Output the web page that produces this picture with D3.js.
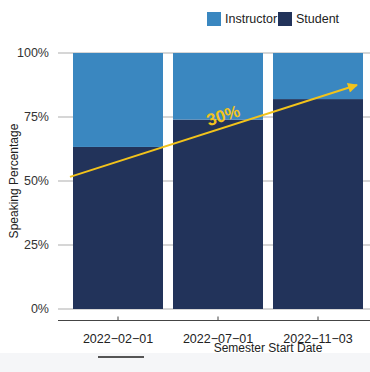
<!DOCTYPE html>
<html>
<head>
<meta charset="utf-8">
<script src="https://cdn.jsdelivr.net/npm/d3@7"></script>
<style>
  body { margin: 0; background: #fff; }
  svg { display: block; font-family: "Liberation Sans", Arial, sans-serif; }
</style>
</head>
<body>
<div id="chart"></div>
<script>
// data
const semesters = ['2022-02-01', '2022-07-01', '2022-11-03'];
const studentShare = [0.633, 0.74, 0.82];
const instructorShare = studentShare.map(v => 1 - v);
const seriesNames = ['Instructor', 'Student'];
const yTicks = [0, 0.25, 0.5, 0.75, 1];
// trend arrow (x in band units from first to last, y as share)
const trendFrom = [-0.48, 0.516];
const trendTo = [2.39, 0.875];
const trendLabel = '30%';

const W = 370, H = 372;
const colors = { Instructor: '#3a87c0', Student: '#22335a' };

const svg = d3.select('#chart').append('svg')
    .attr('width', W)
    .attr('height', H)
    .attr('viewBox', `0 0 ${W} ${H}`);

// grey footer strip
svg.append('rect')
    .attr('x', 0).attr('y', 353)
    .attr('width', W).attr('height', H - 353)
    .attr('fill', '#f5f6f8');
svg.append('line')
    .attr('x1', 98).attr('x2', 144)
    .attr('y1', 357).attr('y2', 357)
    .attr('stroke', '#555').attr('stroke-width', 2);

const x = d3.scaleBand()
    .domain(semesters)
    .range([68, 368])
    .paddingInner(0.1)
    .paddingOuter(0.05);

const y = d3.scaleLinear().domain([0, 1]).range([309, 53]);

// grid
svg.append('g')
    .selectAll('line')
    .data(yTicks)
    .enter()
    .append('line')
    .attr('x1', 58).attr('x2', W)
    .attr('y1', d => y(d)).attr('y2', d => y(d))
    .attr('stroke', '#c8c8c8').attr('stroke-width', 1.5);

// y labels
svg.append('g')
    .selectAll('text')
    .data(yTicks)
    .enter()
    .append('text')
    .attr('x', 49)
    .attr('y', d => y(d))
    .attr('dy', '0.35em')
    .attr('text-anchor', 'end')
    .style('font-size', '12.5px')
    .style('fill', '#333')
    .text(d => d3.format('.0%')(d));

svg.append('text')
    .attr('transform', `translate(14,181) rotate(-90)`)
    .attr('text-anchor', 'middle')
    .attr('dy', '0.35em')
    .style('font-size', '12px')
    .style('fill', '#222')
    .text('Speaking Percentage');

// bars
const stacked = semesters.map((s, i) => ({ s, Student: studentShare[i], Instructor: instructorShare[i] }));
const stack = d3.stack().keys(['Student', 'Instructor'])(stacked);

svg.append('g')
    .selectAll('g')
    .data(stack)
    .enter()
    .append('g')
    .attr('fill', d => colors[d.key])
    .selectAll('rect')
    .data(d => d)
    .enter()
    .append('rect')
    .attr('x', d => x(d.data.s))
    .attr('width', x.bandwidth())
    .attr('y', d => y(d[1]))
    .attr('height', d => y(d[0]) - y(d[1]));

// x axis
const xAxis = svg.append('g')
    .attr('transform', 'translate(0,320.5)');
xAxis.append('line')
    .attr('x1', 58).attr('x2', W)
    .attr('stroke', '#444').attr('stroke-width', 1);
xAxis.selectAll('.tick')
    .data(semesters)
    .enter()
    .append('line')
    .attr('x1', d => x(d) + x.bandwidth() / 2)
    .attr('x2', d => x(d) + x.bandwidth() / 2)
    .attr('y1', 0).attr('y2', -4)
    .attr('stroke', '#444');
xAxis.selectAll('text')
    .data(semesters)
    .enter()
    .append('text')
    .attr('x', d => x(d) + x.bandwidth() / 2)
    .attr('y', 22)
    .attr('text-anchor', 'middle')
    .style('font-size', '12.5px')
    .style('fill', '#222')
    .text(d => d.replace(/-/g, '\u2212'));

svg.append('text')
    .attr('x', 268)
    .attr('y', 352)
    .attr('text-anchor', 'middle')
    .style('font-size', '12px')
    .style('fill', '#222')
    .text('Semester Start Date');

// trend arrow
const bx = v => x(semesters[0]) + x.bandwidth() / 2 + v * x.step();
const x1 = bx(trendFrom[0]), y1 = y(trendFrom[1]);
const x2 = bx(trendTo[0]), y2 = y(trendTo[1]);
const ang = Math.atan2(y2 - y1, x2 - x1) * 180 / Math.PI;

svg.append('defs').append('marker')
    .attr('id', 'head')
    .attr('viewBox', '0 0 10 10')
    .attr('refX', 9).attr('refY', 5)
    .attr('markerWidth', 6).attr('markerHeight', 5)
    .attr('markerUnits', 'strokeWidth')
    .attr('orient', 'auto')
    .append('path')
    .attr('d', 'M0,0L10,5L0,10z')
    .attr('fill', '#f2c31b');

svg.append('line')
    .attr('x1', x1).attr('y1', y1)
    .attr('x2', x2).attr('y2', y2)
    .attr('stroke', '#f2c31b')
    .attr('stroke-width', 2)
    .attr('marker-end', 'url(#head)');

svg.append('text')
    .attr('transform', `translate(225,121) rotate(${ang})`)
    .attr('text-anchor', 'middle')
    .style('font-size', '17px')
    .style('font-weight', 'bold')
    .style('fill', '#f2c31b')
    .text(trendLabel);

// legend
const legend = svg.append('g')
    .selectAll('g')
    .data(seriesNames)
    .enter()
    .append('g')
    .attr('transform', (d, i) => `translate(${[207, 278][i]},12)`);
legend.append('rect')
    .attr('width', 14).attr('height', 14)
    .attr('fill', d => colors[d]);
legend.append('text')
    .attr('x', 18).attr('y', 7)
    .attr('dy', '0.35em')
    .style('font-size', '12.5px')
    .style('fill', '#222')
    .text(d => d);
</script>
</body>
</html>
